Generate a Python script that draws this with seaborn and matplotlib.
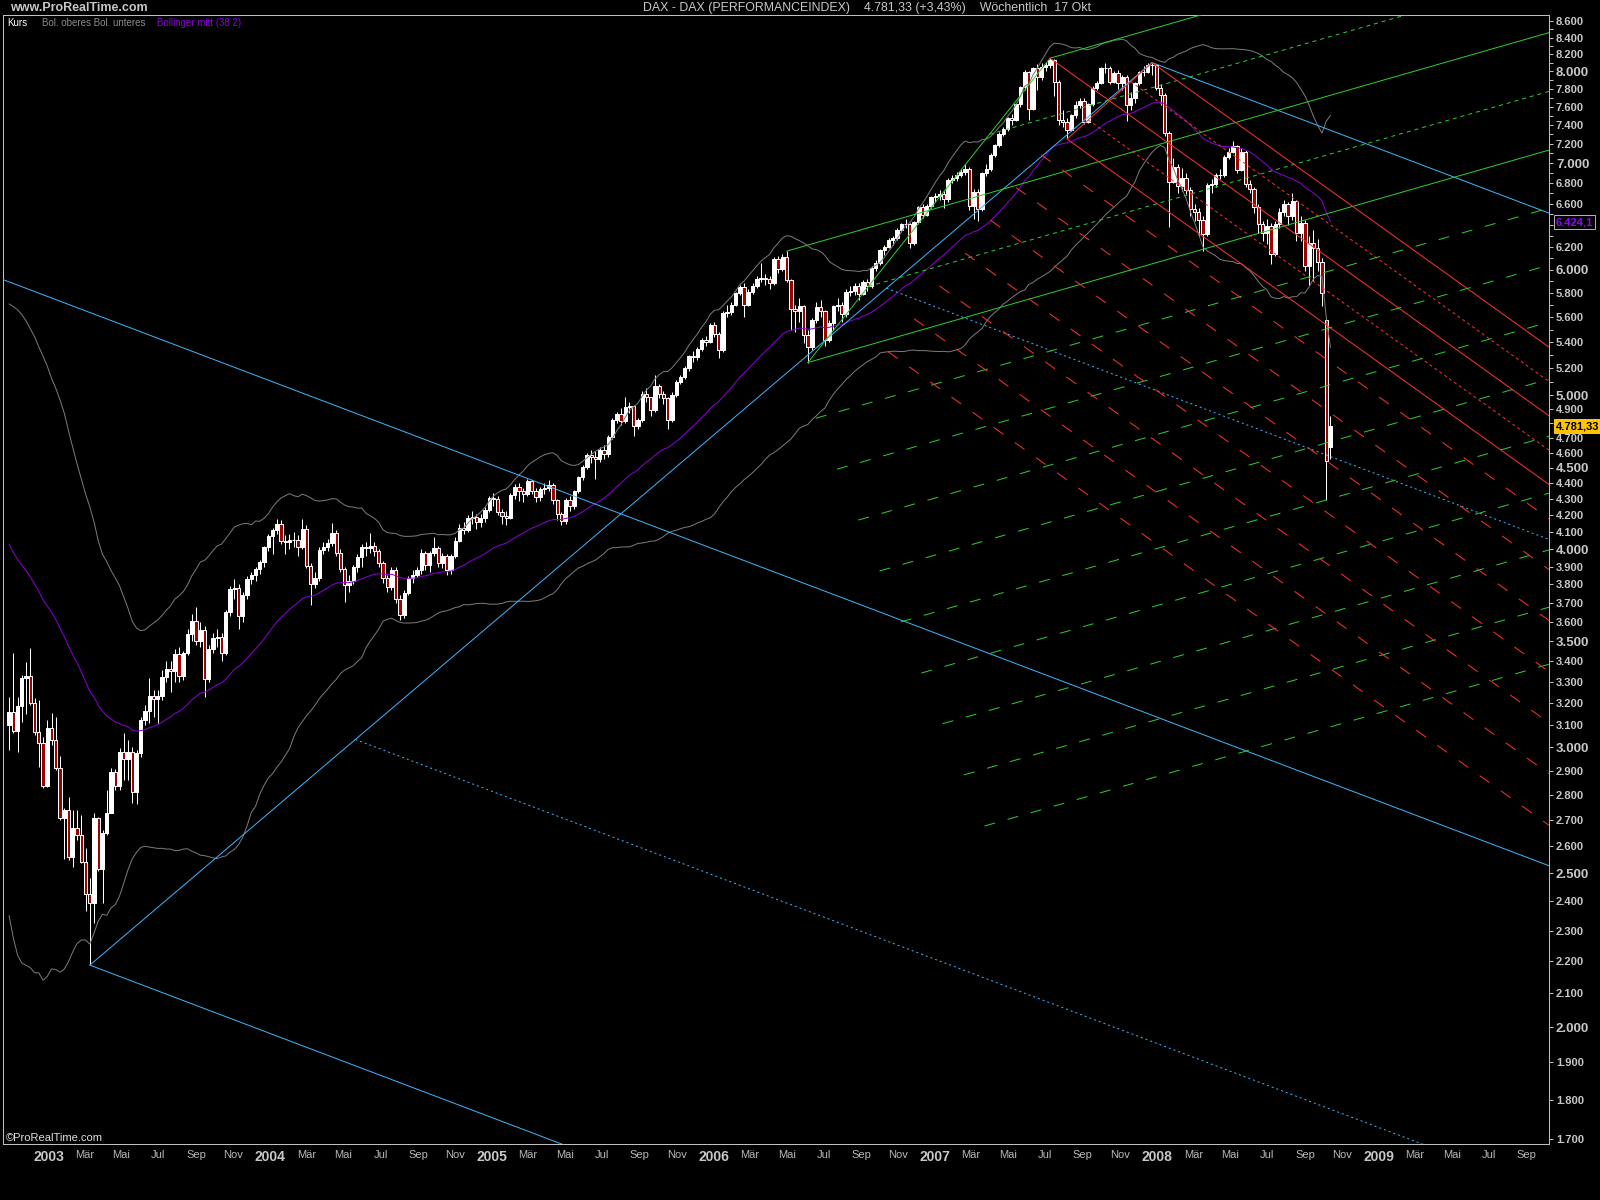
import numpy as np
import pandas as pd
import matplotlib
matplotlib.use("Agg")
import matplotlib.pyplot as plt
import matplotlib.dates as mdates
from matplotlib.ticker import FixedLocator, FixedFormatter, NullLocator, NullFormatter
import seaborn as sns

# ---- weekly DAX candles (Monday-dated weeks, last week = 2008-10-13) ----
closes = [
    3159, 3072, 3185, 3317, 3327, 3199, 3067, 3021, 2837, 3085,
    3032, 2911, 2708, 2739, 2558, 2669, 2641, 2540, 2425, 2394,
    2708, 2514, 2649, 2727, 2895, 2837, 2980, 2949, 2980, 2812,
    2975, 3121, 3163, 3232, 3218, 3232, 3322, 3361, 3351, 3435,
    3327, 3441, 3538, 3604, 3500, 3556, 3315, 3463, 3514, 3520,
    3443, 3649, 3774, 3783, 3631, 3741, 3833, 3852, 3889, 3927,
    4014, 4076, 4111, 4151, 4048, 4039, 4052, 4055, 4010, 4121,
    3901, 3805, 3834, 3997, 4014, 4033, 4095, 3980, 3889, 3799,
    3817, 3895, 3953, 4010, 4004, 4021, 3991, 3918, 3834, 3786,
    3883, 3720, 3638, 3751, 3834, 3852, 3879, 3980, 3907, 3976,
    4007, 3918, 3960, 3880, 3960, 4050, 4126, 4115, 4183, 4193,
    4163, 4183, 4235, 4307, 4301, 4220, 4198, 4187, 4324, 4376,
    4351, 4334, 4414, 4351, 4313, 4362, 4372, 4389, 4297, 4208,
    4167, 4297, 4259, 4351, 4438, 4504, 4582, 4571, 4560, 4617,
    4590, 4705, 4823, 4868, 4817, 4915, 4920, 4779, 4823, 5010,
    4985, 4893, 5071, 5010, 4978, 4823, 5002, 5095, 5132, 5199,
    5290, 5282, 5345, 5417, 5398, 5533, 5468, 5339, 5636, 5644,
    5703, 5798, 5846, 5703, 5807, 5856, 5915, 5930, 5915, 5880,
    6089, 6002, 6106, 5909, 5663, 5649, 5690, 5455, 5364, 5576,
    5681, 5650, 5417, 5549, 5689, 5703, 5628, 5807, 5815, 5856,
    5794, 5894, 5856, 6010, 6058, 6172, 6200, 6262, 6277, 6354,
    6405, 6410, 6233, 6425, 6567, 6496, 6580, 6662, 6673, 6690,
    6643, 6833, 6855, 6885, 6909, 6940, 6580, 6717, 6551, 6899,
    6946, 7086, 7186, 7301, 7359, 7477, 7458, 7625, 7814, 7995,
    7575, 8034, 7937, 8052, 8072, 8131, 7879, 7453, 7433, 7346,
    7506, 7612, 7663, 7433, 7625, 7812, 7868, 8034, 8040, 7879,
    7976, 7863, 7937, 7620, 7700, 7863, 7985, 7995, 8072, 8067,
    7810, 7725, 7311, 6815, 6965, 6774, 6847, 6733, 6548, 6520,
    6447, 6315, 6780, 6796, 6878, 6884, 7062, 7120, 7175, 6932,
    7120, 6796, 6740, 6567, 6412, 6327, 6391, 6140, 6412, 6518,
    6597, 6480, 6630, 6327, 6420, 6031, 6235, 6189, 6063, 5798,
    4544, 4781.33,
]
highs = [
    3229, 3441, 3227, 3332, 3395, 3466, 3222, 3213, 3045, 3121,
    3153, 3135, 2962, 2747, 2791, 2739, 2739, 2720, 2592, 2482,
    2727, 2712, 2660, 2820, 2911, 2907, 2997, 3063, 3032, 3001,
    2990, 3135, 3190, 3317, 3260, 3260, 3356, 3400, 3400, 3460,
    3470, 3450, 3560, 3640, 3680, 3600, 3580, 3480, 3540, 3560,
    3540, 3660, 3790, 3830, 3800, 3760, 3845, 3870, 3900, 3940,
    4020, 4090, 4125, 4180, 4170, 4080, 4090, 4100, 4080, 4180,
    4140, 3920, 3870, 4010, 4040, 4060, 4155, 4110, 4000, 3900,
    3850, 3910, 3970, 4030, 4040, 4093, 4040, 4000, 3930, 3850,
    3900, 3900, 3740, 3770, 3845, 3880, 3900, 4000, 3990, 3990,
    4068, 4020, 3980, 3970, 3970, 4070, 4150, 4160, 4200, 4230,
    4210, 4210, 4250, 4320, 4340, 4320, 4240, 4230, 4340, 4395,
    4400, 4370, 4430, 4420, 4370, 4380, 4400, 4420, 4400, 4300,
    4220, 4310, 4320, 4360, 4450, 4520, 4600, 4620, 4610, 4640,
    4650, 4720, 4840, 4880, 4910, 4990, 4950, 4930, 4840, 5030,
    5050, 4990, 5148, 5080, 5030, 4990, 5020, 5110, 5150, 5220,
    5300, 5330, 5360, 5430, 5450, 5550, 5560, 5480, 5650, 5700,
    5720, 5810, 5870, 5880, 5830, 5880, 5940, 6060, 5960, 5940,
    6110, 6120, 6140, 6162, 5920, 5700, 5760, 5700, 5500, 5590,
    5720, 5740, 5660, 5580, 5700, 5760, 5720, 5830, 5860, 5880,
    5880, 5910, 5920, 6030, 6080, 6180, 6220, 6280, 6300, 6370,
    6420, 6460, 6420, 6440, 6580, 6600, 6600, 6680, 6700, 6730,
    6720, 6850, 6880, 6910, 6940, 6990, 6960, 6740, 6740, 6910,
    6990, 7100, 7200, 7320, 7380, 7490, 7520, 7640, 7830, 8010,
    8000, 8050, 8080, 8090, 8110, 8152, 8140, 7900, 7560, 7480,
    7520, 7660, 7700, 7690, 7640, 7830, 7890, 8050, 8100, 8060,
    8000, 8010, 7960, 7950, 7760, 7880, 8000, 8060, 8100, 8100,
    8080, 7850, 7750, 7330, 7050, 6990, 6950, 6900, 6760, 6600,
    6560, 6480, 6800, 6840, 6900, 6940, 7080, 7160, 7230, 7190,
    7160, 7140, 6830, 6760, 6600, 6440, 6460, 6420, 6440, 6560,
    6640, 6620, 6700, 6640, 6480, 6450, 6300, 6350, 6270, 6100,
    5600, 4850,
]
lows = [
    2988, 3063, 2980, 3112, 3148, 3190, 3054, 2915, 2830, 2832,
    3010, 2903, 2700, 2551, 2550, 2522, 2622, 2536, 2366, 2188,
    2325, 2508, 2394, 2641, 2731, 2820, 2820, 2861, 2861, 2767,
    2763, 2960, 3100, 3110, 3135, 3110, 3213, 3300, 3250, 3300,
    3300, 3310, 3430, 3500, 3480, 3470, 3230, 3300, 3440, 3470,
    3400, 3430, 3630, 3720, 3560, 3600, 3720, 3800, 3820, 3860,
    3900, 3990, 3970, 4090, 4030, 3970, 4000, 4010, 3960, 4000,
    3890, 3690, 3780, 3820, 3970, 3990, 4020, 3960, 3870, 3705,
    3760, 3800, 3870, 3900, 3960, 3980, 3960, 3900, 3810, 3760,
    3770, 3700, 3610, 3620, 3740, 3810, 3840, 3860, 3880, 3870,
    3960, 3900, 3890, 3850, 3860, 3950, 4040, 4090, 4100, 4150,
    4120, 4130, 4160, 4220, 4260, 4200, 4150, 4140, 4180, 4300,
    4290, 4280, 4320, 4330, 4280, 4290, 4330, 4350, 4270, 4170,
    4140, 4150, 4230, 4240, 4340, 4420, 4490, 4530, 4430, 4540,
    4560, 4570, 4690, 4800, 4790, 4800, 4870, 4716, 4760, 4810,
    4950, 4850, 4880, 4980, 4940, 4762, 4810, 4990, 5080, 5120,
    5180, 5250, 5260, 5330, 5370, 5390, 5440, 5280, 5320, 5600,
    5620, 5690, 5780, 5600, 5690, 5790, 5840, 5890, 5870, 5830,
    5870, 5970, 5990, 5890, 5500, 5480, 5560, 5390, 5243, 5340,
    5550, 5600, 5370, 5400, 5500, 5650, 5560, 5600, 5770, 5780,
    5740, 5780, 5820, 5840, 5990, 6040, 6130, 6190, 6220, 6260,
    6340, 6370, 6190, 6220, 6410, 6470, 6480, 6560, 6620, 6640,
    6560, 6620, 6800, 6820, 6860, 6880, 6540, 6460, 6440, 6530,
    6870, 6920, 7060, 7170, 7280, 7340, 7400, 7440, 7600, 7790,
    7450, 7560, 7780, 7900, 8000, 8040, 7720, 7400, 7380, 7250,
    7330, 7480, 7580, 7410, 7420, 7610, 7790, 7850, 7980, 7850,
    7860, 7800, 7780, 7440, 7560, 7640, 7840, 7940, 7980, 7950,
    7780, 7620, 7280, 6384, 6800, 6700, 6720, 6690, 6480, 6440,
    6300, 6167, 6300, 6700, 6760, 6840, 6860, 7040, 7100, 6900,
    6920, 6760, 6700, 6510, 6330, 6250, 6230, 6050, 6120, 6370,
    6480, 6400, 6450, 6250, 6250, 5990, 5870, 5900, 5990, 5690,
    4295, 4560,
]
last_week = "2008-10-13"
gap_weeks = ["2008-10-06", "2008-10-13"]   # weeks that opened away from the prior close
gap_opens = [5580, 4640]

# closes of the 69 weeks before the first candle, only to warm up the bands
warmup_closes = [
    5900, 5800, 5700, 5650, 5800, 5550, 5400, 5300, 5000, 4800,
    4400, 3800, 4300, 4400, 4600, 4550, 4700, 4600, 4800, 4950,
    5050, 4950, 5150, 4950, 5050, 5100, 5250,
    5150, 5050, 5100, 5000, 4950, 5050, 5000, 5150, 5300, 5350,
    5300, 5400, 5250, 5200, 5250, 5000, 5050, 5050, 5200, 5000,
    4850, 4700, 4600, 4400, 4380, 4450, 4100, 3700, 3800, 3650,
    3700, 3800, 3750, 3700, 3450, 3350, 3150, 3000, 2950, 3000,
    3150, 3100,
]
band_period = 38
band_mult = 2
mid_band_last = 6424.1
last_close = 4781.33

# Andrews pitchforks: handle, then the two tine pivots
cyan_pivot_dates = ["2000-03-06", "2003-03-10", "2007-12-24"]
cyan_pivot_prices = [8136, 2188, 8100]
green_pivot_dates = ["2006-05-01", "2006-06-05", "2007-07-09"]
green_pivot_prices = [6162, 5243, 8152]
red_pivot_dates = ["2007-07-09", "2007-08-06", "2007-12-24"]
red_pivot_prices = [8152, 7250, 8100]

# extra dashed parallels: start point of each line
green_grid_dates = ["2006-06-18", "2006-07-23", "2006-08-27", "2006-10-01", "2006-11-05",
                    "2006-12-09", "2007-01-13", "2007-02-17", "2007-03-23"]
green_grid_prices = [4836, 4492, 4172, 3875, 3599, 3342, 3105, 2883, 2677]
red_grid_dates = ["2007-06-24", "2007-05-14", "2007-04-02", "2007-02-19", "2007-01-08",
                  "2006-11-27", "2006-10-15"]
red_grid_prices = [7088, 6757, 6445, 6144, 5858, 5587, 5327]

x_start, x_end = "2002-10-18", "2009-10-08"
y_low, y_high = 1688, 8679

# ---- style ----
sns.set_theme(style="dark", rc={"axes.facecolor": "black", "figure.facecolor": "black",
                                "axes.grid": False})
plt.rcParams["font.family"] = ["Liberation Sans", "DejaVu Sans"]
plt.rcParams["lines.scale_dashes"] = False

PX = 0.72            # one pixel in points at 100 dpi
LW = PX
CYAN, GREEN, RED = "#3cb4ff", "#2ccc2c", "#ff3030"
PURPLE, GRAY = "#8a00d8", "#7a7a7a"
TXT = "#c8c8c8"

# ---- derived series ----
n_warm = len(warmup_closes)
weeks = pd.date_range(end=last_week, periods=n_warm + len(closes), freq="W-MON")
full = pd.Series(warmup_closes + closes, index=weeks, dtype=float)
mid = full.ewm(span=band_period, adjust=False).mean()
sd = full.rolling(band_period).std(ddof=0)
upper = (mid + band_mult * sd).values[n_warm:]
lower = (mid - band_mult * sd).values[n_warm:]
mid = mid.values[n_warm:]

dates = weeks[n_warm:]
x = mdates.date2num(dates)
c = np.array(closes, dtype=float)
o = full.shift(1).values[n_warm:].copy()
for d, v in zip(gap_weeks, gap_opens):
    o[dates.get_loc(pd.Timestamp(d))] = v
h = np.maximum(np.array(highs, float), np.maximum(o, c))
l = np.minimum(np.array(lows, float), np.minimum(o, c))
up = c >= o

# ---- figure ----
fig = plt.figure(figsize=(16, 12), dpi=100)
ax = fig.add_axes([3 / 1600, 56 / 1200, 1546 / 1600, 1129 / 1200])
ax.set_facecolor("black")
ax.set_yscale("log")
xmin, xmax = mdates.date2num(pd.Timestamp(x_start)), mdates.date2num(pd.Timestamp(x_end))
ax.set_xlim(xmin, xmax)
ax.set_ylim(y_low, y_high)

# candles
ax.vlines(x, l, h, color="white", lw=LW, zorder=2)
lo_b, hi_b = np.minimum(o, c), np.maximum(o, c)
ax.bar(x, hi_b - lo_b, bottom=lo_b, width=5.4, align="center",
       color=np.where(up, "white", "#a00000"), edgecolor="white", linewidth=LW, zorder=2.5)

# bollinger
sns.lineplot(x=x, y=upper, ax=ax, color=GRAY, lw=LW, zorder=3, estimator=None, sort=False)
sns.lineplot(x=x, y=lower, ax=ax, color=GRAY, lw=LW, zorder=3, estimator=None, sort=False)
sns.lineplot(x=x, y=mid, ax=ax, color=PURPLE, lw=LW, zorder=3, estimator=None, sort=False)


def ray(x0, y0, slope, color, dashes=None):
    xs = np.array([x0, xmax])
    ys = y0 + slope * (xs - x0)
    kw = {} if dashes is None else {"dashes": dashes}
    ax.plot(xs, np.exp(ys), color=color, lw=LW, zorder=4, **kw)


def pitchfork(pdates, pprices, color, quarter_dashes):
    xs = mdates.date2num(pd.to_datetime(pdates))
    ys = np.log(np.array(pprices, float))
    mx, my = (xs[1] + xs[2]) / 2, (ys[1] + ys[2]) / 2
    slope = (my - ys[0]) / (mx - xs[0])
    for i in range(3):
        ray(xs[i], ys[i], slope, color)
    for t in (0.25, 0.75):
        ray(xs[1] + t * (xs[2] - xs[1]), ys[1] + t * (ys[2] - ys[1]), slope, color, quarter_dashes)
    ax.plot(xs[1:], np.exp(ys[1:]), color=color, lw=LW, zorder=4)
    return slope


s_cyan = pitchfork(cyan_pivot_dates, cyan_pivot_prices, CYAN, (2 * PX, 3 * PX))
s_green = pitchfork(green_pivot_dates, green_pivot_prices, GREEN, (4 * PX, 4 * PX))
s_red = pitchfork(red_pivot_dates, red_pivot_prices, RED, (3 * PX, 3 * PX))

for d, p in zip(green_grid_dates, green_grid_prices):
    ray(mdates.date2num(pd.Timestamp(d)), np.log(p), s_green, GREEN, (11 * PX, 13 * PX))
for d, p in zip(red_grid_dates, red_grid_prices):
    ray(mdates.date2num(pd.Timestamp(d)), np.log(p), s_red, RED, (12 * PX, 14 * PX))

# ---- axes cosmetics ----
for sp in ax.spines.values():
    sp.set_visible(True)
    sp.set_color("#c0c0c0")
    sp.set_linewidth(LW)

# price levels covered by the two tags carry no label
hidden = {4800, 6400}
yvals = list(range(1700, 8700, 100))
ylabels = [f"{v:,}".replace(",", ".") if ((v <= 5000 or v % 200 == 0) and v not in hidden) else ""
           for v in yvals]
big = {2000, 2500, 3000, 3500, 4000, 4500, 5000, 6000, 7000, 8000}
ax.yaxis.tick_right()
ax.yaxis.set_major_locator(FixedLocator(yvals))
ax.yaxis.set_major_formatter(FixedFormatter(ylabels))
ax.yaxis.set_minor_locator(NullLocator())
ax.yaxis.set_minor_formatter(NullFormatter())
ax.tick_params(axis="y", which="major", direction="out", length=3, width=LW,
               color="#c0c0c0", labelcolor=TXT, pad=2)
for v, t in zip(yvals, ax.get_yticklabels()):
    t.set_fontweight("bold")
    t.set_fontsize(9.5 if v in big else 8)

months = {3: "Mär", 5: "Mai", 7: "Jul", 9: "Sep", 11: "Nov"}
xt = pd.date_range("2003-01-01", "2009-09-01", freq="2MS")
xlabels = [str(d.year) if d.month == 1 else months[d.month] for d in xt]
ax.xaxis.set_major_locator(FixedLocator(mdates.date2num(xt)))
ax.xaxis.set_major_formatter(FixedFormatter(xlabels))
ax.xaxis.set_minor_locator(NullLocator())
ax.tick_params(axis="x", which="major", direction="out", length=3, width=LW,
               color="#c0c0c0", labelcolor="#b8b8b8", pad=1.5)
for d, t in zip(xt, ax.get_xticklabels()):
    if d.month == 1:
        t.set_fontsize(10)
        t.set_fontweight("bold")
        t.set_color(TXT)
    else:
        t.set_fontsize(8)
ax.grid(False)


def de_num(v, digits):
    return f"{v:,.{digits}f}".replace(",", "X").replace(".", ",").replace("X", ".")


# price tags on the axis
ytr = ax.get_yaxis_transform()
ax.text(1.0043, mid_band_last, de_num(mid_band_last, 1),
        transform=ytr, ha="left", va="center", fontsize=8, fontweight="bold", color="#9000ff",
        bbox=dict(boxstyle="square,pad=0.18", fc="black", ec="#b0b0b0", lw=LW), zorder=6)
ax.text(1.0043, last_close, de_num(last_close, 2),
        transform=ytr, ha="left", va="center", fontsize=8, fontweight="bold", color="black",
        bbox=dict(boxstyle="square,pad=0.18", fc="#ffc400", ec="#ffc400", lw=LW), zorder=6)

# header and legend
fig.text(10 / 1600, 1 - 8 / 1200, "www.ProRealTime.com", fontsize=9, fontweight="bold",
         color=TXT, va="center", ha="left")
fig.text(643 / 1600, 1 - 8 / 1200,
         "DAX - DAX (PERFORMANCEINDEX)    4.781,33 (+3,43%)    Wöchentlich  17 Okt",
         fontsize=8.9, color=TXT, va="center", ha="left")
fig.text(7 / 1600, 1 - 23 / 1200, "Kurs", fontsize=7, color="white", va="center", ha="left")
fig.text(42 / 1600, 1 - 23 / 1200, "Bol. oberes Bol. unteres", fontsize=7, color="#8c8c8c",
         va="center", ha="left")
fig.text(157 / 1600, 1 - 23 / 1200, "Bollinger mitt (38 2)", fontsize=7, color=PURPLE,
         va="center", ha="left")
fig.text(6 / 1600, 1 - 1138 / 1200, "©ProRealTime.com", fontsize=8, color="#e0e0e0",
         va="center", ha="left")

fig.savefig("out.png", dpi=100, facecolor="black")
